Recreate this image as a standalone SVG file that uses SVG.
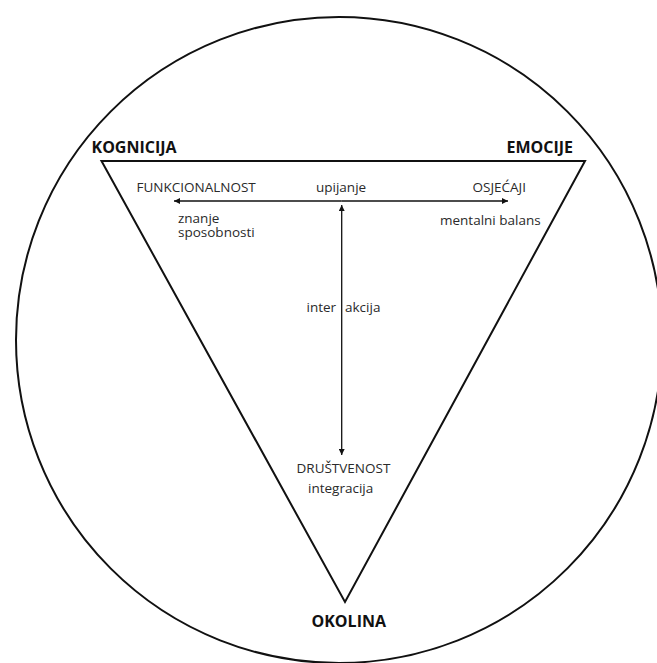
<svg xmlns="http://www.w3.org/2000/svg" width="657" height="663" viewBox="0 0 657 663">
<defs>
<marker id="ah" viewBox="0 0 10 10" refX="10" refY="5" markerWidth="8" markerHeight="6" markerUnits="userSpaceOnUse" orient="auto-start-reverse">
<path d="M0,0 L10,5 L0,10 z" fill="#111"/>
</marker>
<style>
.bold{font-family:"Open Sans","Liberation Sans",sans-serif;font-weight:bold;font-size:16px;fill:#111}
.reg{font-family:"Open Sans","Liberation Sans",sans-serif;font-size:13.5px;fill:#2a2a2a}
.shape{fill:none;stroke:#111;stroke-width:2}
.conn{stroke:#111;stroke-width:1.3;fill:none}
</style>
</defs>
<rect width="657" height="663" fill="#fff"/>
<g id="circle"><circle class="shape" cx="339" cy="340" r="323"/></g>
<g id="triangle"><polygon class="shape" points="101.5,161 585,161 345,602" stroke-linejoin="miter"/></g>
<g id="connectors">
<line class="conn" x1="341.7" y1="201" x2="174" y2="201" marker-end="url(#ah)"/>
<line class="conn" x1="341.7" y1="201" x2="508" y2="201" marker-end="url(#ah)"/>
<line class="conn" x1="341.7" y1="205" x2="341.7" y2="455" marker-start="url(#ah)" marker-end="url(#ah)"/>
</g>
<g id="kognicija"><text class="bold" x="91.5" y="153">KOGNICIJA</text></g>
<g id="emocije"><text class="bold" x="506.5" y="153">EMOCIJE</text></g>
<g id="okolina"><text class="bold" x="311.5" y="627">OKOLINA</text></g>
<g id="funkcionalnost"><text class="reg" x="136.5" y="192">FUNKCIONALNOST</text>
<text class="reg" x="178" y="223">znanje</text>
<text class="reg" x="178" y="236.5">sposobnosti</text></g>
<g id="upijanje"><text class="reg" x="316" y="192">upijanje</text></g>
<g id="osjecaji"><text class="reg" x="472.5" y="192">OSJEĆAJI</text>
<text class="reg" x="440" y="225">mentalni balans</text></g>
<g id="interakcija"><text class="reg" x="306.5" y="311.5">inter</text><text class="reg" x="345" y="311.5">akcija</text></g>
<g id="drustvenost"><text class="reg" x="296.5" y="473">DRUŠTVENOST</text>
<text class="reg" x="308" y="493">integracija</text></g>
</svg>
